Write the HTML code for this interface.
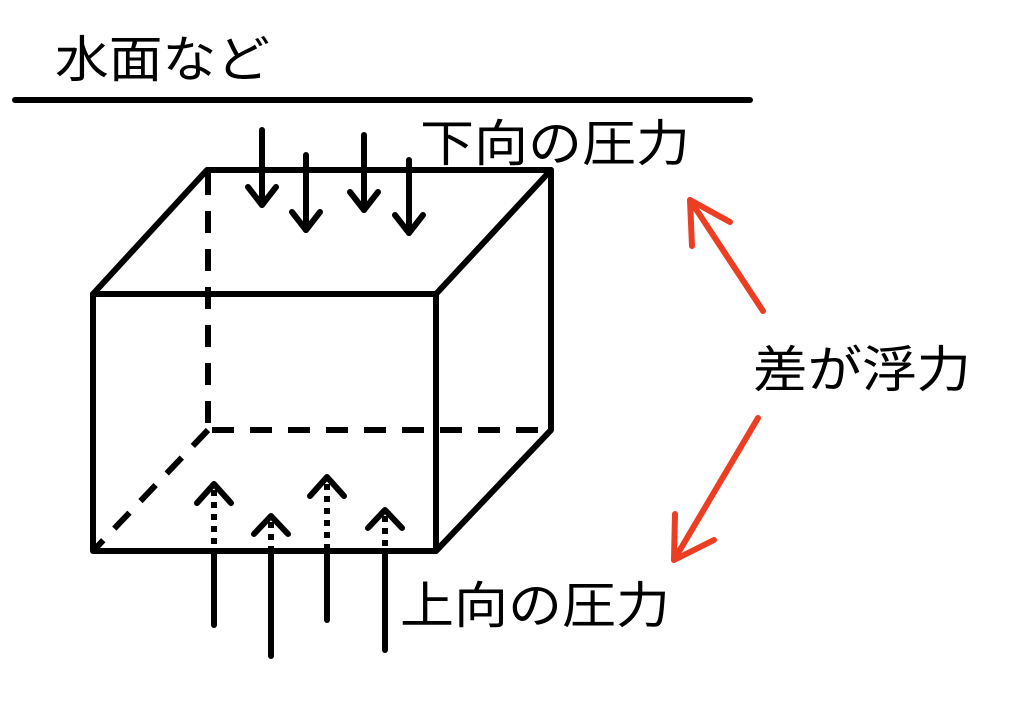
<!DOCTYPE html>
<html><head><meta charset="utf-8"><style>html,body{margin:0;padding:0;background:#fff}svg{display:block}</style></head><body>
<svg width="1024" height="705" viewBox="0 0 1024 705" xmlns="http://www.w3.org/2000/svg">
<g font-family="Liberation Sans, Noto Sans CJK JP, sans-serif" font-size="50" fill="#000">
<text x="55" y="77" textLength="215" lengthAdjust="spacingAndGlyphs">水面など</text>
<text x="420" y="161" textLength="270" lengthAdjust="spacingAndGlyphs">下向の圧力</text>
<text x="753" y="387" textLength="218" lengthAdjust="spacingAndGlyphs">差が浮力</text>
<text x="400" y="623" textLength="270" lengthAdjust="spacingAndGlyphs">上向の圧力</text>
</g>
<g stroke="#000" stroke-width="6" stroke-linecap="round" stroke-linejoin="round" fill="none">
<line x1="15" y1="100" x2="750" y2="100"/>
<!-- cube solid -->
<rect x="93" y="294" width="343" height="257"/>
<polyline points="93,294 207,170 551,170 551,430 436,551"/>
<line x1="551" y1="170" x2="436" y2="294"/>
</g>
<g stroke="#000" stroke-width="6" fill="none" stroke-dasharray="22,16">
<line x1="208" y1="173" x2="208" y2="430"/>
<line x1="212" y1="430" x2="551" y2="430"/>
<line x1="208" y1="430" x2="93" y2="551"/>
</g>
<!-- down arrows -->
<g stroke="#000" stroke-width="6" stroke-linecap="round" stroke-linejoin="round" fill="none">
<line x1="262" y1="130" x2="262" y2="205"/><polyline points="248,187 262,205 276,187"/>
<line x1="306" y1="155" x2="306" y2="230"/><polyline points="292,212 306,230 320,212"/>
<line x1="364" y1="135" x2="364" y2="210"/><polyline points="350,192 364,210 378,192"/>
<line x1="409" y1="160" x2="409" y2="233"/><polyline points="395,215 409,233 423,215"/>
</g>
<!-- up arrows -->
<g stroke="#000" stroke-width="6" stroke-linecap="round" stroke-linejoin="round" fill="none">
<polyline points="197,503 214,484 231,503"/>
<polyline points="254,534 271,516 288,534"/>
<polyline points="310,496 327,477 344,496"/>
<polyline points="368,528 385,510 402,528"/>
<line x1="214" y1="553" x2="214" y2="625"/>
<line x1="271" y1="553" x2="271" y2="656"/>
<line x1="327" y1="553" x2="327" y2="620"/>
<line x1="385" y1="553" x2="385" y2="650"/>
</g>
<g stroke="#000" stroke-width="6" fill="none" stroke-dasharray="6,6">
<line x1="214" y1="490" x2="214" y2="550"/>
<line x1="271" y1="522" x2="271" y2="550"/>
<line x1="327" y1="484" x2="327" y2="550"/>
<line x1="385" y1="516" x2="385" y2="550"/>
</g>
<!-- red arrows -->
<g stroke="#ec3e22" stroke-width="6" stroke-linecap="round" stroke-linejoin="round" fill="none">
<line x1="763" y1="311" x2="690" y2="200"/><polyline points="692,246 690,200 730,222"/>
<line x1="758" y1="418" x2="674" y2="560"/><polyline points="675,514 674,560 714,540"/>
</g>
</svg>
</body></html>
